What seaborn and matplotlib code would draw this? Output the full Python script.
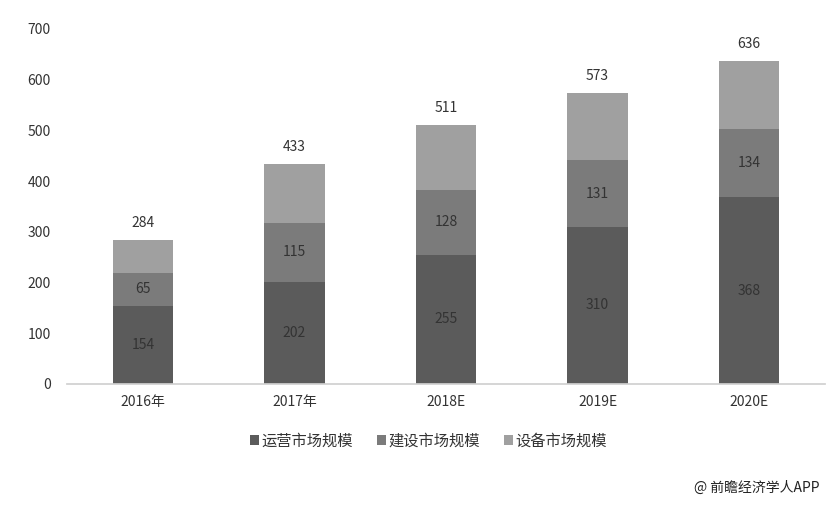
import matplotlib
matplotlib.use("Agg")
import matplotlib.pyplot as plt
import seaborn as sns
import numpy as np
import pandas as pd
from matplotlib.patches import Patch

categories = ["2016年", "2017年", "2018E", "2019E", "2020E"]
operation = [154, 202, 255, 310, 368]
construction = [65, 115, 128, 131, 134]
equipment = [65, 116, 128, 132, 134]
totals = [284, 433, 511, 573, 636]
series_names = ["运营市场规模", "建设市场规模", "设备市场规模"]
colors = ["#5b5b5b", "#7b7b7b", "#a0a0a0"]

sns.set_theme(style="white")
plt.rcParams['font.family'] = ['Noto Sans CJK SC', 'DejaVu Sans']

fig = plt.figure(figsize=(8.4, 5.13), dpi=100)
ax = fig.add_axes([0.08, 0.2515, 0.902, 0.692])

df = pd.DataFrame({"cat": categories, "op": operation, "con": construction, "eq": equipment})
bottom2 = np.array(operation)
bottom3 = bottom2 + np.array(construction)

kw = dict(width=0.4, ax=ax, saturation=1, linewidth=0, edgecolor="none")
sns.barplot(data=df, x="cat", y="op", color=colors[0], **kw)
sns.barplot(data=df, x="cat", y="con", bottom=bottom2, color=colors[1], **kw)
sns.barplot(data=df, x="cat", y="eq", bottom=bottom3, color=colors[2], **kw)

for i in range(len(categories)):
    ax.text(i, operation[i] / 2, str(operation[i]), ha="center", va="center", fontsize=10, color="#333333")
    ax.text(i, operation[i] + construction[i] / 2, str(construction[i]), ha="center", va="center", fontsize=10, color="#333333")
    ax.text(i, totals[i] + 20, str(totals[i]), ha="center", va="bottom", fontsize=10, color="#333333")

ax.set_ylim(0, 700)
ax.set_xlim(-0.5, 4.5)
ax.set_yticks(range(0, 701, 100))
ax.set_xlabel("")
ax.set_ylabel("")
for s in ["top", "right", "left"]:
    ax.spines[s].set_visible(False)
ax.spines["bottom"].set_color("#d0d0d0")
ax.tick_params(axis="y", length=0, labelsize=10, labelcolor="#333333", pad=12)
ax.tick_params(axis="x", length=0, labelsize=10, labelcolor="#333333", pad=8)

handles = [Patch(facecolor=c, edgecolor="none") for c in colors]
fig.legend(handles, series_names, loc="center", bbox_to_anchor=(0.51, 0.14), ncol=3, frameon=False,
           fontsize=11, handlelength=0.6, handleheight=0.6, handletextpad=0.15, columnspacing=1.6,
           labelcolor="#333333")

fig.text(0.975, 0.05, "@ 前瞻经济学人APP", ha="right", va="center", fontsize=10, color="#222222")

fig.savefig("out.png", dpi=100)
